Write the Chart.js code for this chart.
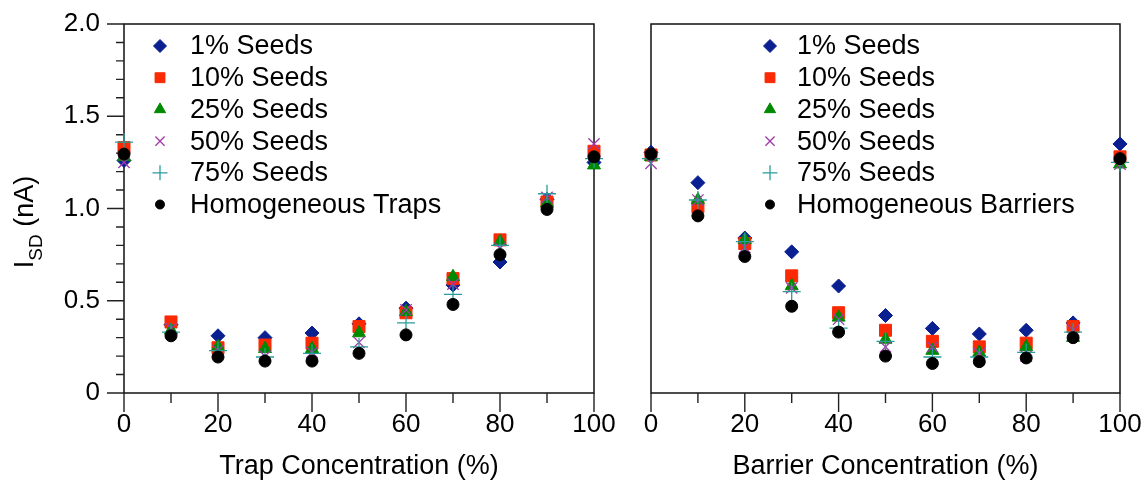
<!DOCTYPE html>
<html>
<head>
<meta charset="utf-8">
<script src="https://cdn.jsdelivr.net/npm/chart.js@4.4.1/dist/chart.umd.min.js"></script>
<style>
  html, body { margin: 0; padding: 0; background: #fff; }
  #wrap { position: relative; width: 1146px; height: 485px; }
  #leftBox { position: absolute; left: 0; top: 0; width: 615px; height: 485px; }
  #rightBox { position: absolute; left: 615px; top: 0; width: 531px; height: 485px; }
</style>
</head>
<body>
<div id="wrap">
  <div id="leftBox"><canvas id="trapChart"></canvas></div>
  <div id="rightBox"><canvas id="barrierChart"></canvas></div>
</div>
<script>
// concentration (%) on the x axis, shared by both panels
const concentrations = [0, 10, 20, 30, 40, 50, 60, 70, 80, 90, 100];

// left panel: traps, I_SD in nA
const traps1 = [1.26, 0.37, 0.31, 0.30, 0.325, 0.375, 0.46, 0.585, 0.71, 1.05, 1.25];
const traps10 = [1.33, 0.385, 0.245, 0.26, 0.27, 0.36, 0.435, 0.62, 0.83, 1.035, 1.31];
const traps25 = [1.28, 0.34, 0.25, 0.24, 0.24, 0.325, 0.44, 0.63, 0.82, 1.03, 1.235];
const traps50 = [1.25, 0.35, 0.23, 0.20, 0.22, 0.275, 0.45, 0.59, 0.785, 1.06, 1.35];
const traps75 = [1.36, 0.33, 0.23, 0.195, 0.215, 0.25, 0.38, 0.535, 0.80, 1.08, 1.27];
const trapsHomog = [1.295, 0.31, 0.195, 0.173, 0.173, 0.215, 0.315, 0.48, 0.75, 0.995, 1.28];

// right panel: barriers
const barr1 = [1.305, 1.14, 0.84, 0.765, 0.58, 0.42, 0.35, 0.32, 0.34, 0.38, 1.35];
const barr10 = [1.29, 1.01, 0.81, 0.635, 0.435, 0.34, 0.28, 0.25, 0.27, 0.36, 1.28];
const barr25 = [1.28, 1.046, 0.83, 0.58, 0.41, 0.29, 0.23, 0.22, 0.25, 0.30, 1.24];
const barr50 = [1.245, 1.046, 0.79, 0.57, 0.40, 0.25, 0.25, 0.215, 0.20, 0.34, 1.24];
const barr75 = [1.27, 1.046, 0.82, 0.55, 0.352, 0.28, 0.195, 0.195, 0.22, 0.33, 1.25];
const barrHomog = [1.295, 0.96, 0.74, 0.47, 0.33, 0.20, 0.16, 0.17, 0.19, 0.30, 1.27];

const seedLabels = ['1% Seeds', '10% Seeds', '25% Seeds', '50% Seeds', '75% Seeds'];
const xTickValues = [0, 20, 40, 60, 80, 100];
const yTickValues = [0, 0.5, 1.0, 1.5, 2.0];

const FONT = '"Liberation Sans", Arial, Helvetica, sans-serif';

// marker look per series (same order as the legend)
const markers = [
  { color: '#0a1f90', style: 'rectRot', radius: 7, legendRadius: 6.5, width: 1 },
  { color: '#fb2a04', style: 'rect', radius: 8.5, legendRadius: 7, width: 1 },
  { color: '#008a00', style: 'triangle', radius: 7.5, legendRadius: 6.5, width: 1 },
  { color: '#a03aa8', style: 'crossRot', radius: 8, legendRadius: 6.5, width: 1.3 },
  { color: '#2a9c9c', style: 'cross', radius: 9, legendRadius: 7.5, width: 1.3 },
  { color: '#000000', style: 'circle', radius: 6, legendRadius: 4.5, width: 1 }
];

function makeDatasets(seriesList, homogLabel) {
  const labels = seedLabels.concat([homogLabel]);
  return seriesList.map(function (vals, i) {
    const m = markers[i];
    return {
      label: labels[i],
      data: concentrations.map(function (c, k) { return { x: c, y: vals[k] }; }),
      pointStyle: m.style,
      pointRadius: m.radius,
      pointHoverRadius: m.radius,
      pointBorderWidth: m.width,
      backgroundColor: m.color,
      borderColor: m.color,
      showLine: false,
      clip: false,
      order: seriesList.length - i
    };
  });
}

// tick labels must not push the plot area in
function noOverflow(s) {
  s.paddingTop = 0;
  s.paddingBottom = 0;
  s.paddingLeft = 0;
  s.paddingRight = 0;
}

// frame, minor/major ticks, legend and the y title with subscript
const decorPlugin = {
  id: 'decor',
  beforeDatasetsDraw(chart, args, opts) {
    const ctx = chart.ctx;
    const a = chart.chartArea;
    const xs = chart.scales.x;
    const ys = chart.scales.y;
    ctx.save();
    ctx.strokeStyle = '#111';
    ctx.lineWidth = 1.5;
    ctx.strokeRect(a.left, a.top, a.right - a.left, a.bottom - a.top);

    ctx.lineWidth = 1.4;
    ctx.strokeStyle = '#222';
    ctx.beginPath();
    for (let v = 0; v <= 100; v += 10) {
      const px = xs.getPixelForValue(v);
      const len = (v % 20 === 0) ? 19 : 10;
      ctx.moveTo(px, a.bottom);
      ctx.lineTo(px, a.bottom + len);
    }
    if (opts.yTicks) {
      for (let k = 0; k <= 20; k++) {
        const py = ys.getPixelForValue(k / 10);
        const len = (k % 5 === 0) ? 17 : 8;
        ctx.moveTo(a.left, py);
        ctx.lineTo(a.left - len, py);
      }
    }
    ctx.stroke();
    ctx.restore();
  },
  afterDatasetsDraw(chart, args, opts) {
    const ctx = chart.ctx;
    ctx.save();
    chart.data.datasets.forEach(function (ds, i) {
      const m = markers[i];
      const y = opts.legendTop + i * opts.legendStep;
      ctx.fillStyle = m.color;
      ctx.strokeStyle = m.color;
      ctx.lineWidth = m.width;
      Chart.helpers.drawPoint(ctx, { pointStyle: m.style, radius: m.legendRadius, rotation: 0, borderWidth: m.width }, opts.legendMarkX, y);
      ctx.fillStyle = '#000';
      ctx.font = '27px ' + FONT;
      ctx.textBaseline = 'middle';
      ctx.textAlign = 'left';
      ctx.fillText(ds.label, opts.legendTextX, y + 1);
    });

    if (opts.yTitle) {
      const big = '27px ' + FONT;
      const small = '19px ' + FONT;
      ctx.font = big;
      const wI = ctx.measureText('I').width;
      const wRest = ctx.measureText(' (nA)').width;
      ctx.font = small;
      const wSub = ctx.measureText('SD').width;
      const total = wI + wSub + wRest;
      ctx.translate(33, 222);
      ctx.rotate(-Math.PI / 2);
      ctx.fillStyle = '#000';
      ctx.textAlign = 'left';
      ctx.textBaseline = 'alphabetic';
      let x = -total / 2;
      ctx.font = big;
      ctx.fillText('I', x, 0);
      x += wI;
      ctx.font = small;
      ctx.fillText('SD', x, 9);
      x += wSub;
      ctx.font = big;
      ctx.fillText(' (nA)', x, 0);
    }
    ctx.restore();
  }
};

function makeChart(canvasId, seriesList, homogLabel, xTitle, side) {
  const isLeft = side === 'left';
  return new Chart(document.getElementById(canvasId), {
    type: 'scatter',
    data: { datasets: makeDatasets(seriesList, homogLabel) },
    plugins: [decorPlugin],
    options: {
      responsive: false,
      animation: false,
      devicePixelRatio: 1,
      layout: { padding: { top: 24, right: isLeft ? 21 : 26, bottom: 0, left: 0 } },
      plugins: {
        legend: { display: false },
        tooltip: { enabled: false },
        decor: {
          yTicks: isLeft,
          yTitle: isLeft,
          legendMarkX: isLeft ? 160 : 155,
          legendTextX: isLeft ? 190 : 182,
          legendTop: 46,
          legendStep: 31.7
        }
      },
      scales: {
        x: {
          type: 'linear',
          min: 0,
          max: 100,
          afterBuildTicks: function (s) { s.ticks = xTickValues.map(function (v) { return { value: v }; }); },
          afterFit: function (s) { s.height = 92; noOverflow(s); },
          grid: { display: false, drawTicks: false },
          border: { display: false },
          ticks: { color: '#000', padding: 16, maxRotation: 0, font: { family: FONT, size: 26 } },
          title: { display: true, text: xTitle, color: '#000', padding: { top: 0, bottom: 2 }, font: { family: FONT, size: 27 } }
        },
        y: {
          type: 'linear',
          min: 0,
          max: 2,
          afterBuildTicks: function (s) { s.ticks = yTickValues.map(function (v) { return { value: v }; }); },
          afterFit: function (s) { s.width = isLeft ? 124 : 36; noOverflow(s); },
          grid: { display: false, drawTicks: false },
          border: { display: false },
          ticks: {
            display: isLeft,
            color: '#000',
            padding: 24,
            font: { family: FONT, size: 26 },
            callback: function (v) { return v === 0 ? '0' : v.toFixed(1); }
          }
        }
      }
    }
  });
}

document.getElementById('trapChart').width = 615;
document.getElementById('trapChart').height = 485;
document.getElementById('barrierChart').width = 531;
document.getElementById('barrierChart').height = 485;

makeChart('trapChart', [traps1, traps10, traps25, traps50, traps75, trapsHomog],
  'Homogeneous Traps', 'Trap Concentration (%)', 'left');
makeChart('barrierChart', [barr1, barr10, barr25, barr50, barr75, barrHomog],
  'Homogeneous Barriers', 'Barrier Concentration (%)', 'right');
</script>
</body>
</html>
